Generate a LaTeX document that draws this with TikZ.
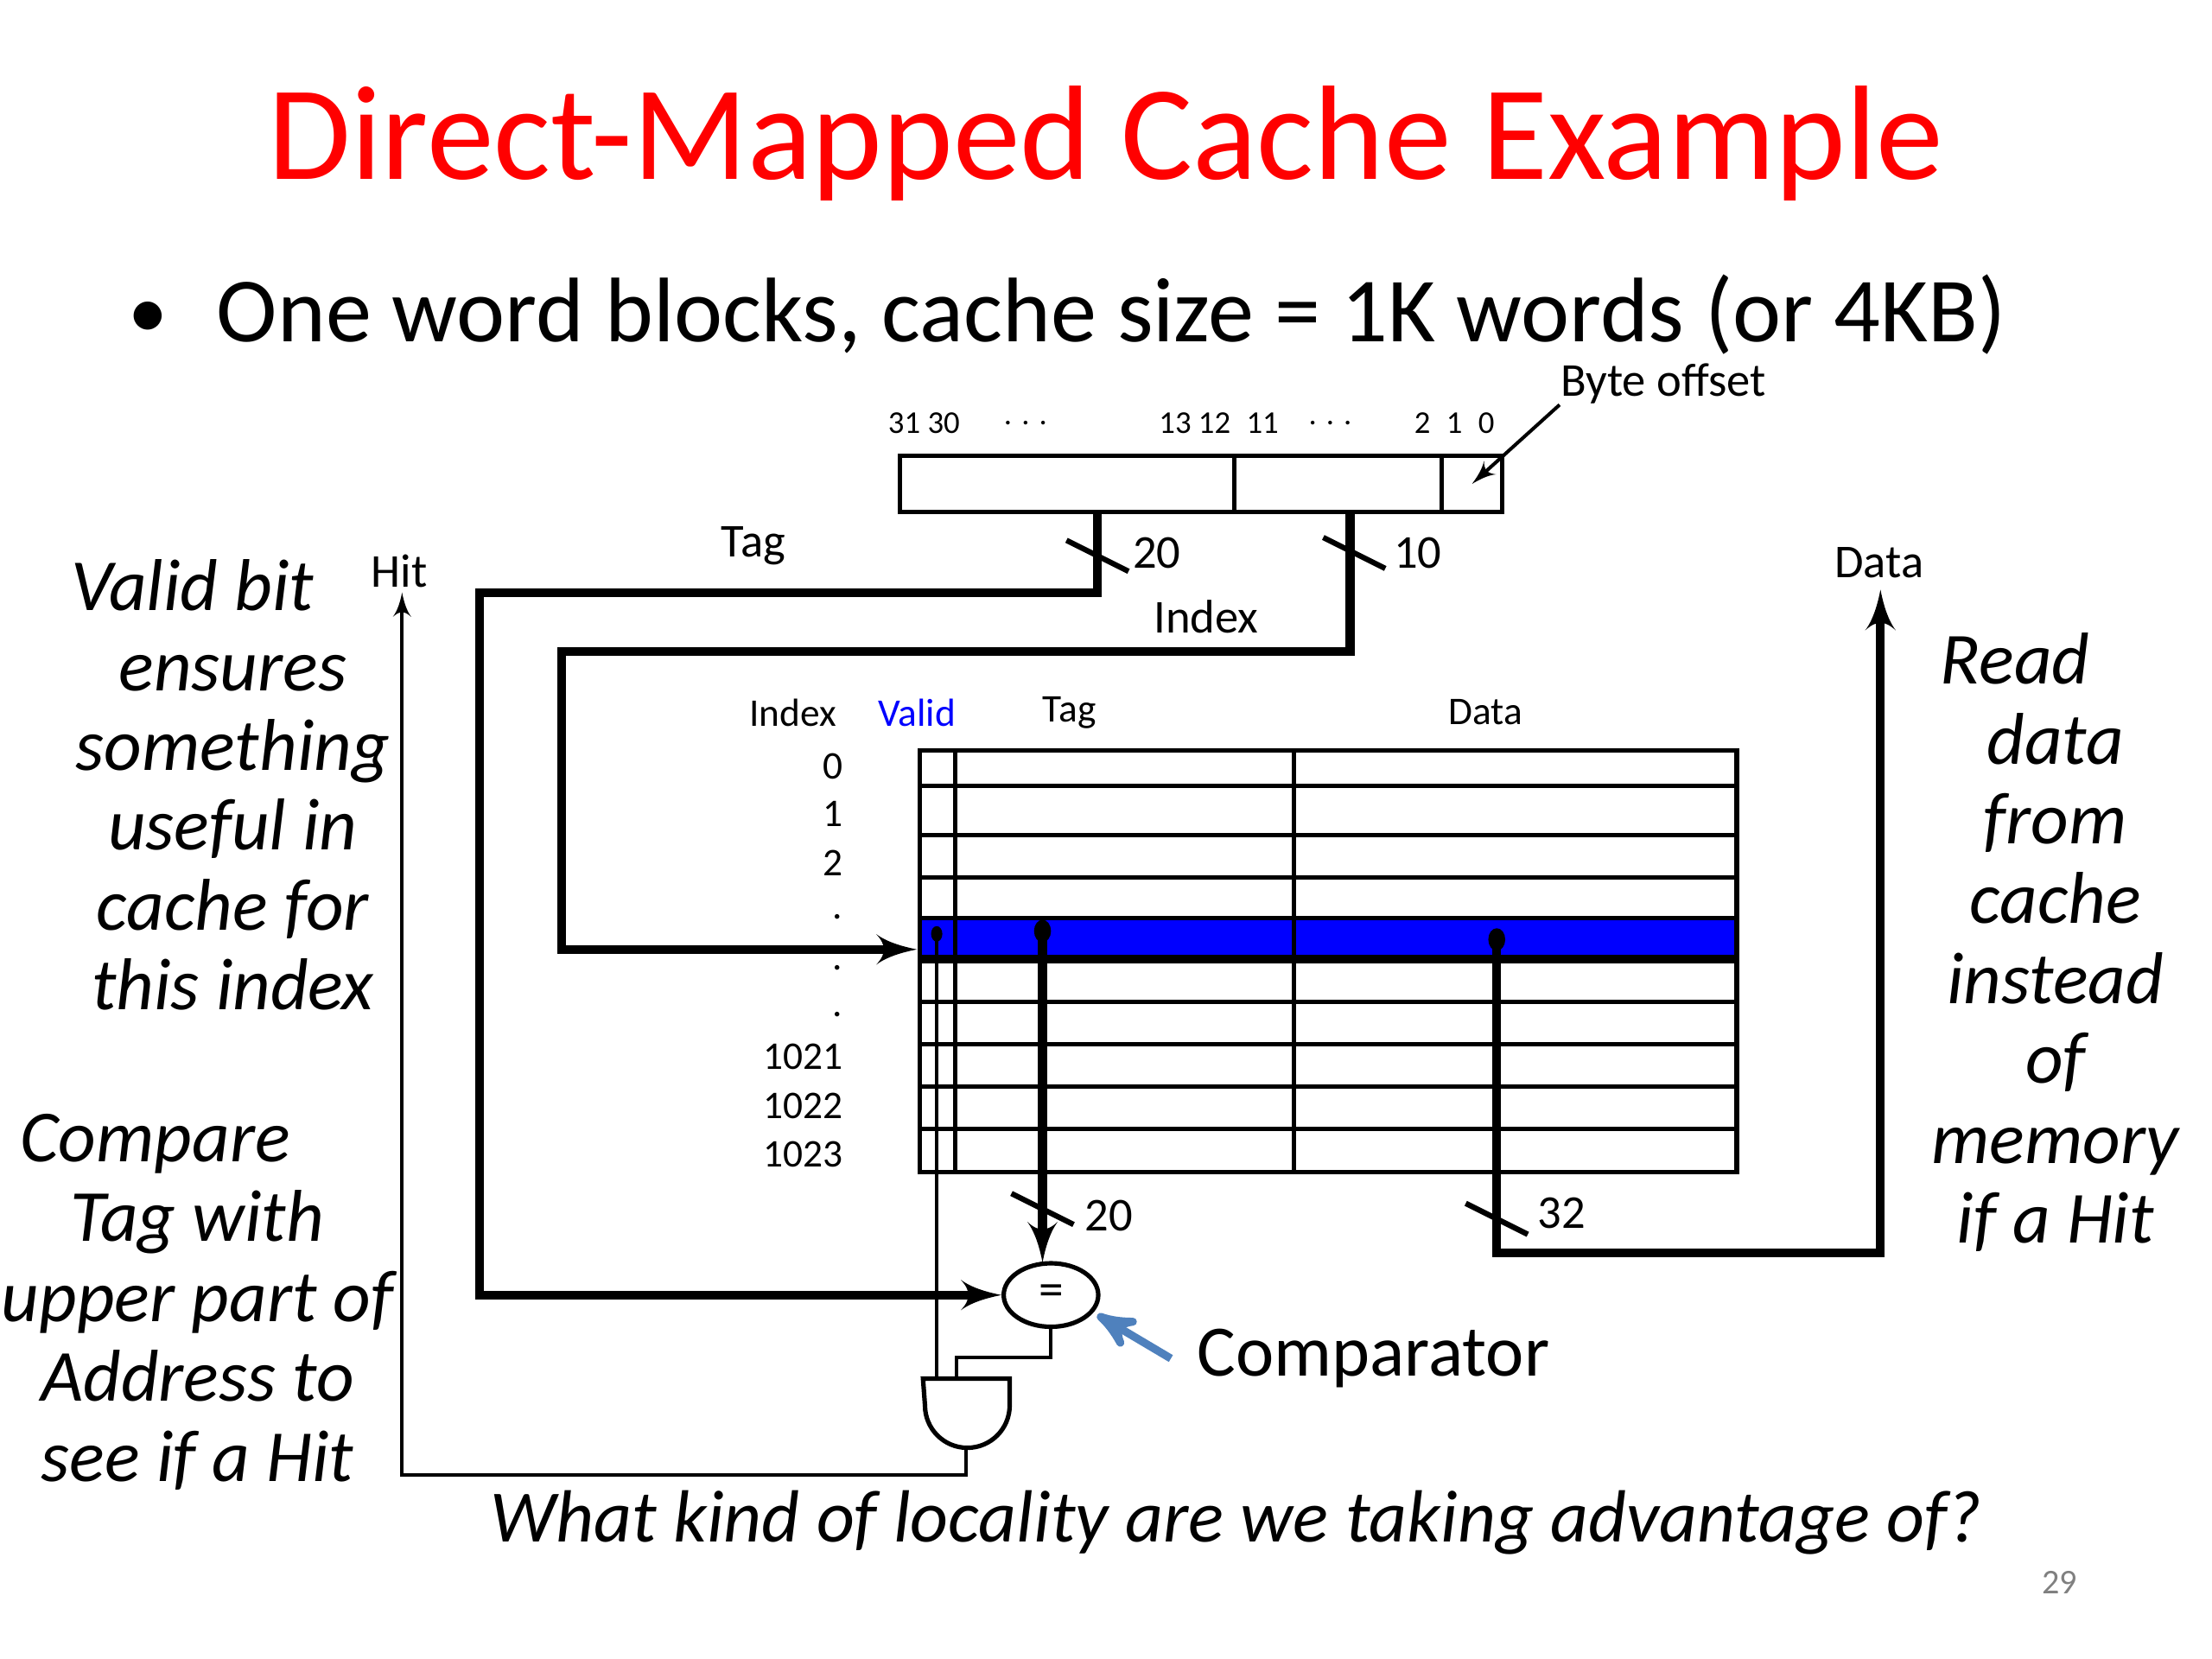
\documentclass[tikz,border=0pt]{standalone}
\usepackage{fontspec}
\setmainfont{Carlito}
\usepackage{tikz}
\usetikzlibrary{arrows}
\usetikzlibrary{shapes.geometric}
\definecolor{arrowblue}{RGB}{79,129,189}

\begin{document}
\begin{tikzpicture}[x=0.01cm, y=-0.01cm]
	\tikzset{field/.style = {draw, line width=0.9pt, inner sep=0, minimum height=0.4cm}}
	\tikzset{bus/.style = {line width=1.8pt, > = latex'}}
	\tikzset{wire/.style = {line width=0.7pt, > = latex'}}
	\tikzset{tab/.style = {line width=0.9pt}}
	\tikzset{cut/.style = {line width=1.1pt}}
	\tikzset{lbl/.style = {font=\fontsize{9.5}{11}\selectfont, inner sep=0}}
	\tikzset{bits/.style = {font=\fontsize{6.4}{8}\selectfont, inner sep=0}}
	\tikzset{idxlbl/.style = {font=\fontsize{7.9}{10}\selectfont, inner sep=0}}
	\tikzset{note/.style = {font=\fontsize{14.8}{16.1}\selectfont\itshape, align=center, inner sep=0, anchor=north}}
	\useasboundingbox (0,0) rectangle (1568,1176);
	% heading
	\node[red, font=\fontsize{27.1}{32}\selectfont, anchor=base, inner sep=0] (title) at (784,127) {Direct-Mapped Cache Example};
	\node[font=\fontsize{16}{22}\selectfont, anchor=base, inner sep=0] (bul) at (105,240) {\textbullet};
	\node[font=\fontsize{18.5}{22}\selectfont, anchor=base west, inner sep=0] (pt) at (153,242) {One word blocks, cache size = 1K words (or 4KB)};
	% address
	\node[field, minimum width=2.37cm] (atag) at (756.5,343) {};
	\node[field, minimum width=1.47cm] (aidx) at (948.5,343) {};
	\node[field, minimum width=0.43cm] (aoff) at (1043.5,343) {};
	\node[bits] (b3130) at (655,300) {31 30};
	\node[bits] (bdotsa) at (727,300) {. . .};
	\node[bits] (b1311) at (864,300) {13 12\enspace 11};
	\node[bits] (bdotsb) at (943,300) {. . .};
	\node[bits] (b210) at (1031,300) {2\enspace 1\enspace 0};
	\node[lbl] (boff) at (1179,272) {Byte offset};
	\draw[wire,->] (boff.south west) -- (aoff.center);
	% cache
	\fill[blue] (652,651) rectangle (1231,680);
	\node[draw, tab, inner sep=0, minimum width=5.79cm, minimum height=2.99cm] (cache) at (941.5,681.5) {};
	\foreach \y in {557,592,622,651,710,740,770,800}
		\draw[tab] (652,\y) -- (1231,\y);
	\draw[line width=1.8pt] (652,680) -- (1231,680);
	\foreach \x in {677,917}
		\draw[tab] (\x,532) -- (\x,831);
	\node[idxlbl] (hidx) at (562,505) {Index};
	\node[idxlbl, blue] (hvalid) at (650,505) {Valid};
	\node[idxlbl] (htag) at (758,505) {Tag};
	\node[idxlbl] (hdata) at (1053,505) {Data};
	\foreach \n/\y in {0/543, 1/577, 2/612, ./650, ./686, ./719, 1021/749, 1022/784, 1023/818}
		\node[idxlbl, anchor=east] (i\y) at (598,\y) {\n};
	\coordinate (vdot) at (664,662);
	\coordinate (tdot) at (739,660);
	\coordinate (ddot) at (1061,666);
	\fill (vdot) ellipse (0.04cm and 0.055cm);
	\fill (tdot) ellipse (0.06cm and 0.08cm);
	\fill (ddot) ellipse (0.06cm and 0.08cm);
	% comparator and gate
	\node[draw, ellipse, line width=0.9pt, minimum width=0.67cm, minimum height=0.45cm, inner sep=0, font=\fontsize{10}{10}\selectfont] (cmp) at (745,918) {=};
	\node[inner sep=0, minimum width=0.6cm, minimum height=0.49cm] (andg) at (685,1002.5) {};
	\draw[line width=0.9pt] (andg.north west) -- (andg.north east) -- ++(0,19) arc[start angle=0, end angle=-180, radius=0.3cm] -- cycle;
	\node[font=\fontsize{14.6}{16}\selectfont, anchor=west, inner sep=0] (cmpl) at (848,963) {Comparator};
	\draw[line width=1.6pt, arrowblue, -stealth'] ([xshift=-0.18cm]cmpl.west) -- ([shift={(0.08cm,0.03cm)}]cmp.south east);
	% wires
	\coordinate (tagtap) at (778,363);
	\coordinate (tagbend) at (340,420);
	\coordinate (idxtap) at (957,363);
	\coordinate (idxbend) at (398,462);
	\coordinate (rowin) at (650,673);
	\coordinate (hitend) at (285,420);
	\coordinate (dataend) at (1333,418);
	\draw[bus,->] (tagtap) |- (tagbend) |- (cmp.west);
	\draw[bus,->] (idxtap) |- (idxbend) |- (rowin);
	\draw[bus,->] (tdot) -- ([yshift=-0.01cm]tdot |- cmp.north);
	\draw[bus,->] (ddot) -- ++(0,222) -| (dataend);
	\draw[wire] (vdot) -- (vdot |- andg.north);
	\draw[wire] (cmp.south) -- ++(0,20) -| ([xshift=-0.07cm]andg.north);
	\draw[wire,->] (andg.south) -- ++(0,18) -| (hitend);
	\foreach \x/\y in {778/394, 960/392, 739/857, 1061/864}
		\draw[cut] (\x-22,\y-11) -- (\x+22,\y+11);
	% labels
	\node[lbl] (ltag) at (534,387) {Tag};
	\node[lbl] (ltwenty) at (820,392) {20};
	\node[lbl] (lten) at (1005,392) {10};
	\node[lbl] (lidx) at (855,437) {Index};
	\node[lbl] (lhit) at (283,405) {Hit};
	\node[lbl] (ldata) at (1332,399) {Data};
	\node[lbl] (ltwentyb) at (786,862) {20};
	\node[lbl] (lthirtytwo) at (1107,860) {32};
	% notes
	\node[note] (validnote) at (165,396) {Valid bit\hspace*{1.1em}\mbox{}\\ensures\\something\\useful in\\cache for\\this index};
	\node[note] (cmpnote) at (140,789) {Compare\hspace*{1.15em}\mbox{}\\Tag with\\upper part of\\Address to\\see if a Hit};
	\node[note] (readnote) at (1457,448) {Read\hspace*{1.1em}\mbox{}\\data\\from\\cache\\instead\\of\\memory\\if a Hit};
	\node[font=\fontsize{14.9}{16}\selectfont\itshape, anchor=base, inner sep=0] (quest) at (876,1093) {What kind of locality are we taking advantage of?};
	\node[gray, font=\fontsize{7}{8}\selectfont] (pg) at (1460,1122) {29};
\end{tikzpicture}
\end{document}
